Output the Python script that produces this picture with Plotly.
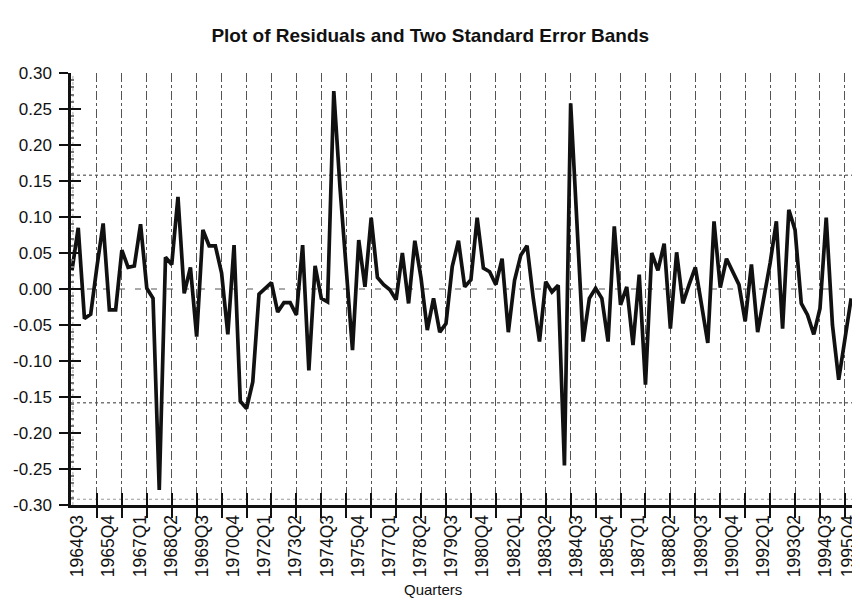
import plotly.graph_objects as go

# ---- data -------------------------------------------------------------
start_year, start_q = 1964, 3
residuals = [
    0.026, 0.085, -0.041, -0.035, 0.031, 0.091, -0.029, -0.029, 0.054, 0.030,
    0.032, 0.090, 0.001, -0.013, -0.279, 0.044, 0.034, 0.128, -0.006, 0.030,
    -0.066, 0.082, 0.060, 0.060, 0.022, -0.063, 0.061, -0.156, -0.166, -0.129,
    -0.007, 0.001, 0.009, -0.032, -0.019, -0.019, -0.036, 0.061, -0.113, 0.032,
    -0.013, -0.018, 0.275, 0.140, 0.020, -0.085, 0.068, 0.003, 0.099, 0.016,
    0.006, -0.001, -0.015, 0.050, -0.020, 0.067, 0.015, -0.057, -0.013, -0.060,
    -0.048, 0.031, 0.067, 0.003, 0.013, 0.099, 0.029, 0.024, 0.006, 0.042,
    -0.060, 0.012, 0.047, 0.060, -0.013, -0.073, 0.010, -0.004, 0.005, -0.245,
    0.258, 0.090, -0.073, -0.013, 0.001, -0.013, -0.073, 0.087, -0.022, 0.003,
    -0.078, 0.020, -0.133, 0.050, 0.026, 0.063, -0.055, 0.051, -0.020, 0.006,
    0.030, -0.022, -0.075, 0.094, 0.002, 0.042, 0.024, 0.006, -0.045, 0.034,
    -0.060, -0.013, 0.036, 0.094, -0.055, 0.110, 0.082, -0.020, -0.036, -0.063,
    -0.027, 0.099, -0.050, -0.126, -0.068, -0.013,
]
band_upper = 0.158
band_lower = -0.158

x_tick_labels = [
    "1964Q3", "1965Q4", "1967Q1", "1968Q2", "1969Q3", "1970Q4", "1972Q1",
    "1973Q2", "1974Q3", "1975Q4", "1977Q1", "1978Q2", "1979Q3", "1980Q4",
    "1982Q1", "1983Q2", "1984Q3", "1985Q4", "1987Q1", "1988Q2", "1989Q3",
    "1990Q4", "1992Q1", "1993Q2", "1994Q3", "1995Q4",
]
y_tick_values = [0.30, 0.25, 0.20, 0.15, 0.10, 0.05, 0.00, -0.05, -0.10,
                 -0.15, -0.20, -0.25, -0.30]
y_tick_labels = ["0.30", "0.25", "0.20", "0.15", "0.10", "0.05", "0.00",
                 "-0.05", "-0.10", "-0.15", "-0.20", "-0.25", "-0.30"]

title_text = "Plot of Residuals and Two Standard Error Bands"
x_title = "Quarters"

# ---- derived ----------------------------------------------------------
n = len(residuals)
quarters = []
yr, q = start_year, start_q
for _ in range(n):
    quarters.append(f"{yr}Q{q}")
    q += 1
    if q > 4:
        q, yr = 1, yr + 1
idx = list(range(n))
grid_pos = list(range(4, n, 4))

x_range = [-0.16, 126.9]
label_shift = 0.9
label_limit = 124.6
label_pos = [min(quarters.index(lbl) + label_shift, label_limit)
             for lbl in x_tick_labels]
FONT = "Liberation Sans, Arial, sans-serif"

fig = go.Figure()
fig.add_trace(go.Scatter(
    x=idx, y=residuals, mode="lines",
    line=dict(color="#111111", width=3.7),
    text=quarters, hovertemplate="%{text}: %{y:.3f}<extra></extra>",
    showlegend=False,
))
# helper traces so overlay axes are rendered
fig.add_trace(go.Scatter(x=[], y=[], xaxis="x2", showlegend=False))
fig.add_trace(go.Scatter(x=[], y=[], xaxis="x3", yaxis="y2", showlegend=False))

# reference lines
line_specs = [
    (band_upper, dict(color="#777777", width=1.5, dash="dot")),
    (band_lower, dict(color="#777777", width=1.5, dash="dot")),
    (0.0, dict(color="#555555", width=1.2, dash="6px,10px")),
    (-0.292, dict(color="#999999", width=1.2, dash="dot")),
]
for yv, ln in line_specs:
    fig.add_shape(type="line", xref="paper", yref="y", x0=0, x1=0.994,
                  y0=yv, y1=yv, line=ln, layer="below")
fig.add_shape(type="line", xref="x", yref="paper", x0=0.15, x1=0.15,
              y0=0, y1=1, line=dict(color="#aaaaaa", width=1, dash="dot"),
              layer="below")

fig.add_annotation(text=x_title, xref="paper", yref="paper", x=0.457,
                   y=-0.195, xanchor="center", yanchor="middle",
                   showarrow=False, font=dict(size=15, family=FONT))

fig.update_layout(
    width=860, height=603, autosize=False,
    margin=dict(l=63, r=5.4, t=65, b=106),
    paper_bgcolor="white", plot_bgcolor="white",
    font=dict(family=FONT, color="#111111"),
    title=dict(text=f"<b>{title_text}</b>", x=0.491, xref="container",
               xanchor="center", y=0.954, yanchor="middle",
               font=dict(size=19, family=FONT)),
    xaxis=dict(
        range=x_range, tickmode="array", tickvals=grid_pos,
        showticklabels=False, ticks="outside", ticklen=10, tickwidth=2,
        tickcolor="#111111", showline=True, linewidth=2.5, linecolor="#111111",
        showgrid=True, gridcolor="#555555", gridwidth=1, griddash="dashdot",
        zeroline=False, fixedrange=True,
    ),
    xaxis2=dict(
        overlaying="x", side="bottom", anchor="y", range=x_range,
        tickmode="array", tickvals=label_pos, ticktext=x_tick_labels,
        tickangle=-90, ticks="outside", ticklen=2, tickcolor="rgba(0,0,0,0)",
        tickfont=dict(size=17.5, family=FONT, color="#111111"),
        ticklabeloverflow="allow",
        showline=False, showgrid=False, zeroline=False,
    ),
    xaxis3=dict(
        overlaying="x", side="bottom", anchor="y", range=x_range,
        tickmode="array", tickvals=grid_pos, showticklabels=False,
        ticks="inside", ticklen=12, tickwidth=2, tickcolor="#111111",
        showline=False, showgrid=False, zeroline=False,
    ),
    yaxis=dict(
        range=[-0.30, 0.30], tickmode="array", tickvals=y_tick_values,
        ticktext=y_tick_labels, ticks="outside", ticklen=9, tickwidth=2,
        tickcolor="#111111", tickfont=dict(size=17, family=FONT, color="#111111"),
        ticklabelstandoff=4,
        showline=True, linewidth=2.5, linecolor="#111111",
        showgrid=False, zeroline=False, fixedrange=True,
    ),
    yaxis2=dict(
        overlaying="y", side="left", anchor="x", range=[-0.30, 0.30],
        tickmode="array", tickvals=y_tick_values, showticklabels=False,
        ticks="inside", ticklen=10, tickwidth=2, tickcolor="#111111",
        minor=dict(ticks="inside", ticklen=3, tickcolor="#777777", dtick=0.01,
                   tick0=0, showgrid=False),
        showline=False, showgrid=False, zeroline=False,
    ),
)

fig.write_html("out.html")
